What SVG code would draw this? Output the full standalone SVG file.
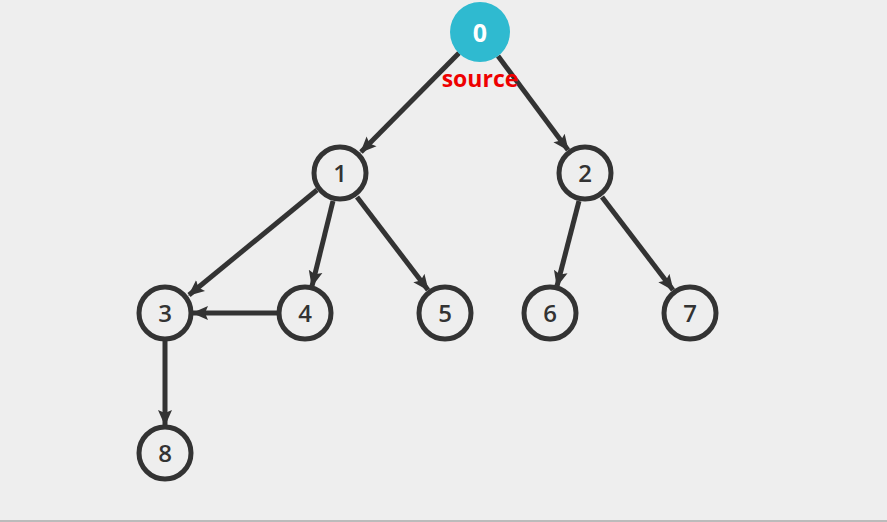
<svg xmlns="http://www.w3.org/2000/svg" width="887" height="522" viewBox="0 0 887 522">
  <style>
    .edge { stroke: #333; stroke-width: 5; fill: none; marker-end: url(#arrow); }
    .node circle { fill: #eee; stroke: #333; stroke-width: 5; }
    .node text { font-family: "Open Sans", "Noto Sans", sans-serif; font-size: 24px; font-weight: 600; fill: #333; text-anchor: middle; dominant-baseline: central; }
    .src circle { fill: #2fbad0; stroke: none; }
    .src text { fill: #fff; font-weight: bold; font-size: 25px; }
    .label { font-family: "Open Sans", "Noto Sans", sans-serif; font-size: 23px; font-weight: bold; fill: #e00; text-anchor: middle; }
  </style>
  <defs>
    <marker id="arrow" markerUnits="userSpaceOnUse" markerWidth="16" markerHeight="16" viewBox="0 0 16 16" refX="15" refY="8" orient="auto">
      <path d="M0,1 L16,8 L0,15 L3,8 Z" fill="#333"/>
    </marker>
  </defs>
  <rect x="0" y="0" width="887" height="522" fill="#eee"/>
  <line x1="0" y1="521" x2="887" y2="521" stroke="#bbb" stroke-width="2"/>

  <g id="edges">
    <line class="edge" x1="459" y1="53" x2="361" y2="152"/>
    <line class="edge" x1="498" y1="56" x2="568" y2="150"/>
    <line class="edge" x1="317" y1="190" x2="189" y2="295"/>
    <line class="edge" x1="333" y1="201" x2="312" y2="286"/>
    <line class="edge" x1="357" y1="197" x2="428" y2="290"/>
    <line class="edge" x1="579" y1="201" x2="557" y2="286"/>
    <line class="edge" x1="602" y1="197" x2="673" y2="290"/>
    <line class="edge" x1="277" y1="313" x2="193" y2="313"/>
    <line class="edge" x1="165" y1="341" x2="165" y2="425"/>
  </g>

  <g id="node0" class="node src"><circle cx="480" cy="32" r="30"/><text x="480" y="32">0</text></g>
  <text class="label" x="480" y="87">source</text>
  <g id="node1" class="node"><circle cx="340" cy="173" r="26"/><text x="340" y="172">1</text></g>
  <g id="node2" class="node"><circle cx="585" cy="173" r="26"/><text x="585" y="172">2</text></g>
  <g id="node3" class="node"><circle cx="165" cy="313" r="26"/><text x="165" y="312">3</text></g>
  <g id="node4" class="node"><circle cx="305" cy="313" r="26"/><text x="305" y="312">4</text></g>
  <g id="node5" class="node"><circle cx="445" cy="313" r="26"/><text x="445" y="312">5</text></g>
  <g id="node6" class="node"><circle cx="550" cy="313" r="26"/><text x="550" y="312">6</text></g>
  <g id="node7" class="node"><circle cx="690" cy="313" r="26"/><text x="690" y="312">7</text></g>
  <g id="node8" class="node"><circle cx="165" cy="453" r="26"/><text x="165" y="452">8</text></g>
</svg>
